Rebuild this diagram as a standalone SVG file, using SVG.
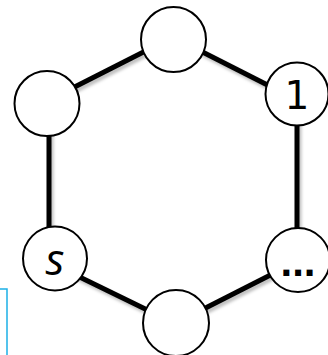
<svg xmlns="http://www.w3.org/2000/svg" width="328" height="355" viewBox="0 0 328 355">
<defs>
<style>
.edge{stroke:#000;stroke-width:5;stroke-linecap:butt;fill:none}
.node circle{fill:#fff;stroke:#000;stroke-width:2}
.lbl{fill:#000;text-anchor:middle}
</style>
<filter id="sh" x="-20%" y="-20%" width="140%" height="140%">
<feDropShadow dx="2" dy="3" stdDeviation="1.5" flood-color="#000" flood-opacity="0.25"/>
</filter>
</defs>
<rect width="328" height="355" fill="#fff"/>
<path d="M0,289 H7 V355" fill="none" stroke="#1cb0e6" stroke-width="1.5"/>
<g id="edges" filter="url(#sh)">
<line class="edge" x1="47" y1="101" x2="173" y2="37"/>
<line class="edge" x1="173" y1="37" x2="297" y2="100"/>
<line class="edge" x1="297" y1="100" x2="297" y2="260"/>
<line class="edge" x1="49" y1="110" x2="49" y2="258"/>
<line class="edge" x1="55" y1="265" x2="176" y2="324"/>
<line class="edge" x1="176" y1="323" x2="298" y2="261"/>
</g>
<g id="n_top" class="node"><circle cx="173.5" cy="39.5" r="32.5"/></g>
<g id="n_topleft" class="node"><circle cx="47" cy="103.5" r="32.5"/></g>
<g id="n_1" class="node"><circle cx="297" cy="94" r="31.5"/><text class="lbl" x="297" y="109" font-family="DejaVu Sans, sans-serif" font-size="39">1</text></g>
<g id="n_s" class="node"><circle cx="55" cy="258.5" r="32"/><text class="lbl" x="55" y="275" font-family="Open Sans, sans-serif" font-style="italic" font-size="44">s</text></g>
<g id="n_dots" class="node"><circle cx="298" cy="260" r="32"/><text class="lbl" x="298" y="276" font-family="Liberation Sans, sans-serif" font-weight="bold" font-size="42">...</text></g>
<g id="n_bottom" class="node"><circle cx="176" cy="323" r="33"/></g>
</svg>
